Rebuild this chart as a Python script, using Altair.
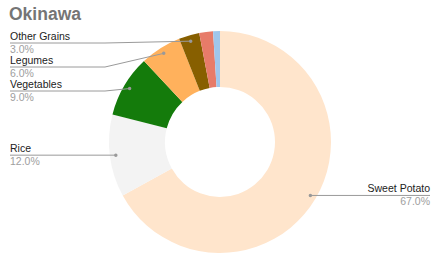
import math
import altair as alt
import pandas as pd

# ---------------- data ----------------
categories = ["Sweet Potato", "Rice", "Vegetables", "Legumes", "Other Grains", "Oils", "Fish"]
values = [67.0, 12.0, 9.0, 6.0, 3.0, 2.0, 1.0]
colors = ["#ffe5cc", "#f3f3f3", "#147b0b", "#ffb15c", "#875f00", "#e77b69", "#9fc6ec"]
title_text = "Okinawa"

# ---------------- layout constants ----------------
FONT = "Liberation Sans, Arial, sans-serif"
W, H, TOP = 441, 233, 25
CX, CY = 220, 117
R_OUT, R_IN, R_DOT = 111, 55, 105
LEFT_X, RIGHT_X, KNEE_X = 10, 430, 105
MIN_LINE_Y, GAP = 18, 24
LABEL_MIN = 3.0

total = sum(values)
rows = []
cum = 0.0
for i, (c, v) in enumerate(zip(categories, values)):
    mid = (cum + v / 2) / total * 2 * math.pi
    cum += v
    rows.append(dict(category=c, value=v, frac=v / total, order=i,
                     dot_x=CX + R_DOT * math.sin(mid),
                     dot_y=CY - R_DOT * math.cos(mid),
                     side="left" if math.sin(mid) < 0 else "right"))
df = pd.DataFrame(rows)

lab = df[df.value >= LABEL_MIN].copy()
lab["line_y"] = lab.dot_y
for side in ["left", "right"]:
    sub = lab[lab.side == side].sort_values("dot_y")
    prev = -1e9
    for idx, r in sub.iterrows():
        y = max(r.dot_y, prev + GAP, MIN_LINE_Y)
        lab.loc[idx, "line_y"] = y
        prev = y
lab["label_x"] = lab.side.map({"left": LEFT_X, "right": RIGHT_X})
lab["name_y"] = lab.line_y - 3
lab["pct_y"] = lab.line_y + 10

pts = []
for _, r in lab.iterrows():
    pts.append(dict(category=r.category, step=0, x=r.label_x, y=r.line_y))
    if r.side == "left":
        pts.append(dict(category=r.category, step=1, x=min(KNEE_X, r.dot_x), y=r.line_y))
    pts.append(dict(category=r.category, step=2, x=r.dot_x, y=r.dot_y))
lines_df = pd.DataFrame(pts)

xs = alt.Scale(domain=[0, W], nice=False, zero=False)
ys = alt.Scale(domain=[0, H], nice=False, zero=False, reverse=True)

arcs = alt.Chart(df).mark_arc(outerRadius=R_OUT, innerRadius=R_IN).encode(
    theta=alt.Theta("value:Q", stack=True),
    color=alt.Color("category:N", scale=alt.Scale(domain=categories, range=colors), legend=None),
    order=alt.Order("order:Q"),
    x=alt.value(CX),
    y=alt.value(CY),
)

leaders = alt.Chart(lines_df).mark_line(color="#9a9a9a", strokeWidth=1).encode(
    x=alt.X("x:Q", scale=xs, axis=None),
    y=alt.Y("y:Q", scale=ys, axis=None),
    detail="category:N",
    order="step:Q",
)

dots = alt.Chart(lab).mark_circle(size=12, color="#999999", opacity=1).encode(
    x=alt.X("dot_x:Q", scale=xs, axis=None),
    y=alt.Y("dot_y:Q", scale=ys, axis=None),
)

def labels(side, align):
    d = lab[lab.side == side]
    name = alt.Chart(d).mark_text(align=align, baseline="alphabetic", fontSize=10.5,
                                  color="#222222", font=FONT).encode(
        x=alt.X("label_x:Q", scale=xs, axis=None),
        y=alt.Y("name_y:Q", scale=ys, axis=None),
        text="category:N",
    )
    pct = alt.Chart(d).mark_text(align=align, baseline="alphabetic", fontSize=10.5,
                                 color="#9e9e9e", font=FONT).encode(
        x=alt.X("label_x:Q", scale=xs, axis=None),
        y=alt.Y("pct_y:Q", scale=ys, axis=None),
        text=alt.Text("frac:Q", format=".1%"),
    )
    return name + pct

chart = alt.layer(arcs, leaders, dots, labels("left", "left"), labels("right", "right")).properties(
    width=W,
    height=H,
    background="white",
    autosize=alt.AutoSizeParams(type="none"),
    padding={"left": 0, "right": 0, "top": TOP, "bottom": 0},
    title=alt.TitleParams(title_text, anchor="start", frame="group", fontSize=17.5,
                          fontWeight="bold", color="#757575", font=FONT,
                          baseline="alphabetic", offset=3, dx=9, dy=15),
).configure_view(stroke=None)

chart.save("out.html", embed_options={"renderer": "svg", "actions": False})
